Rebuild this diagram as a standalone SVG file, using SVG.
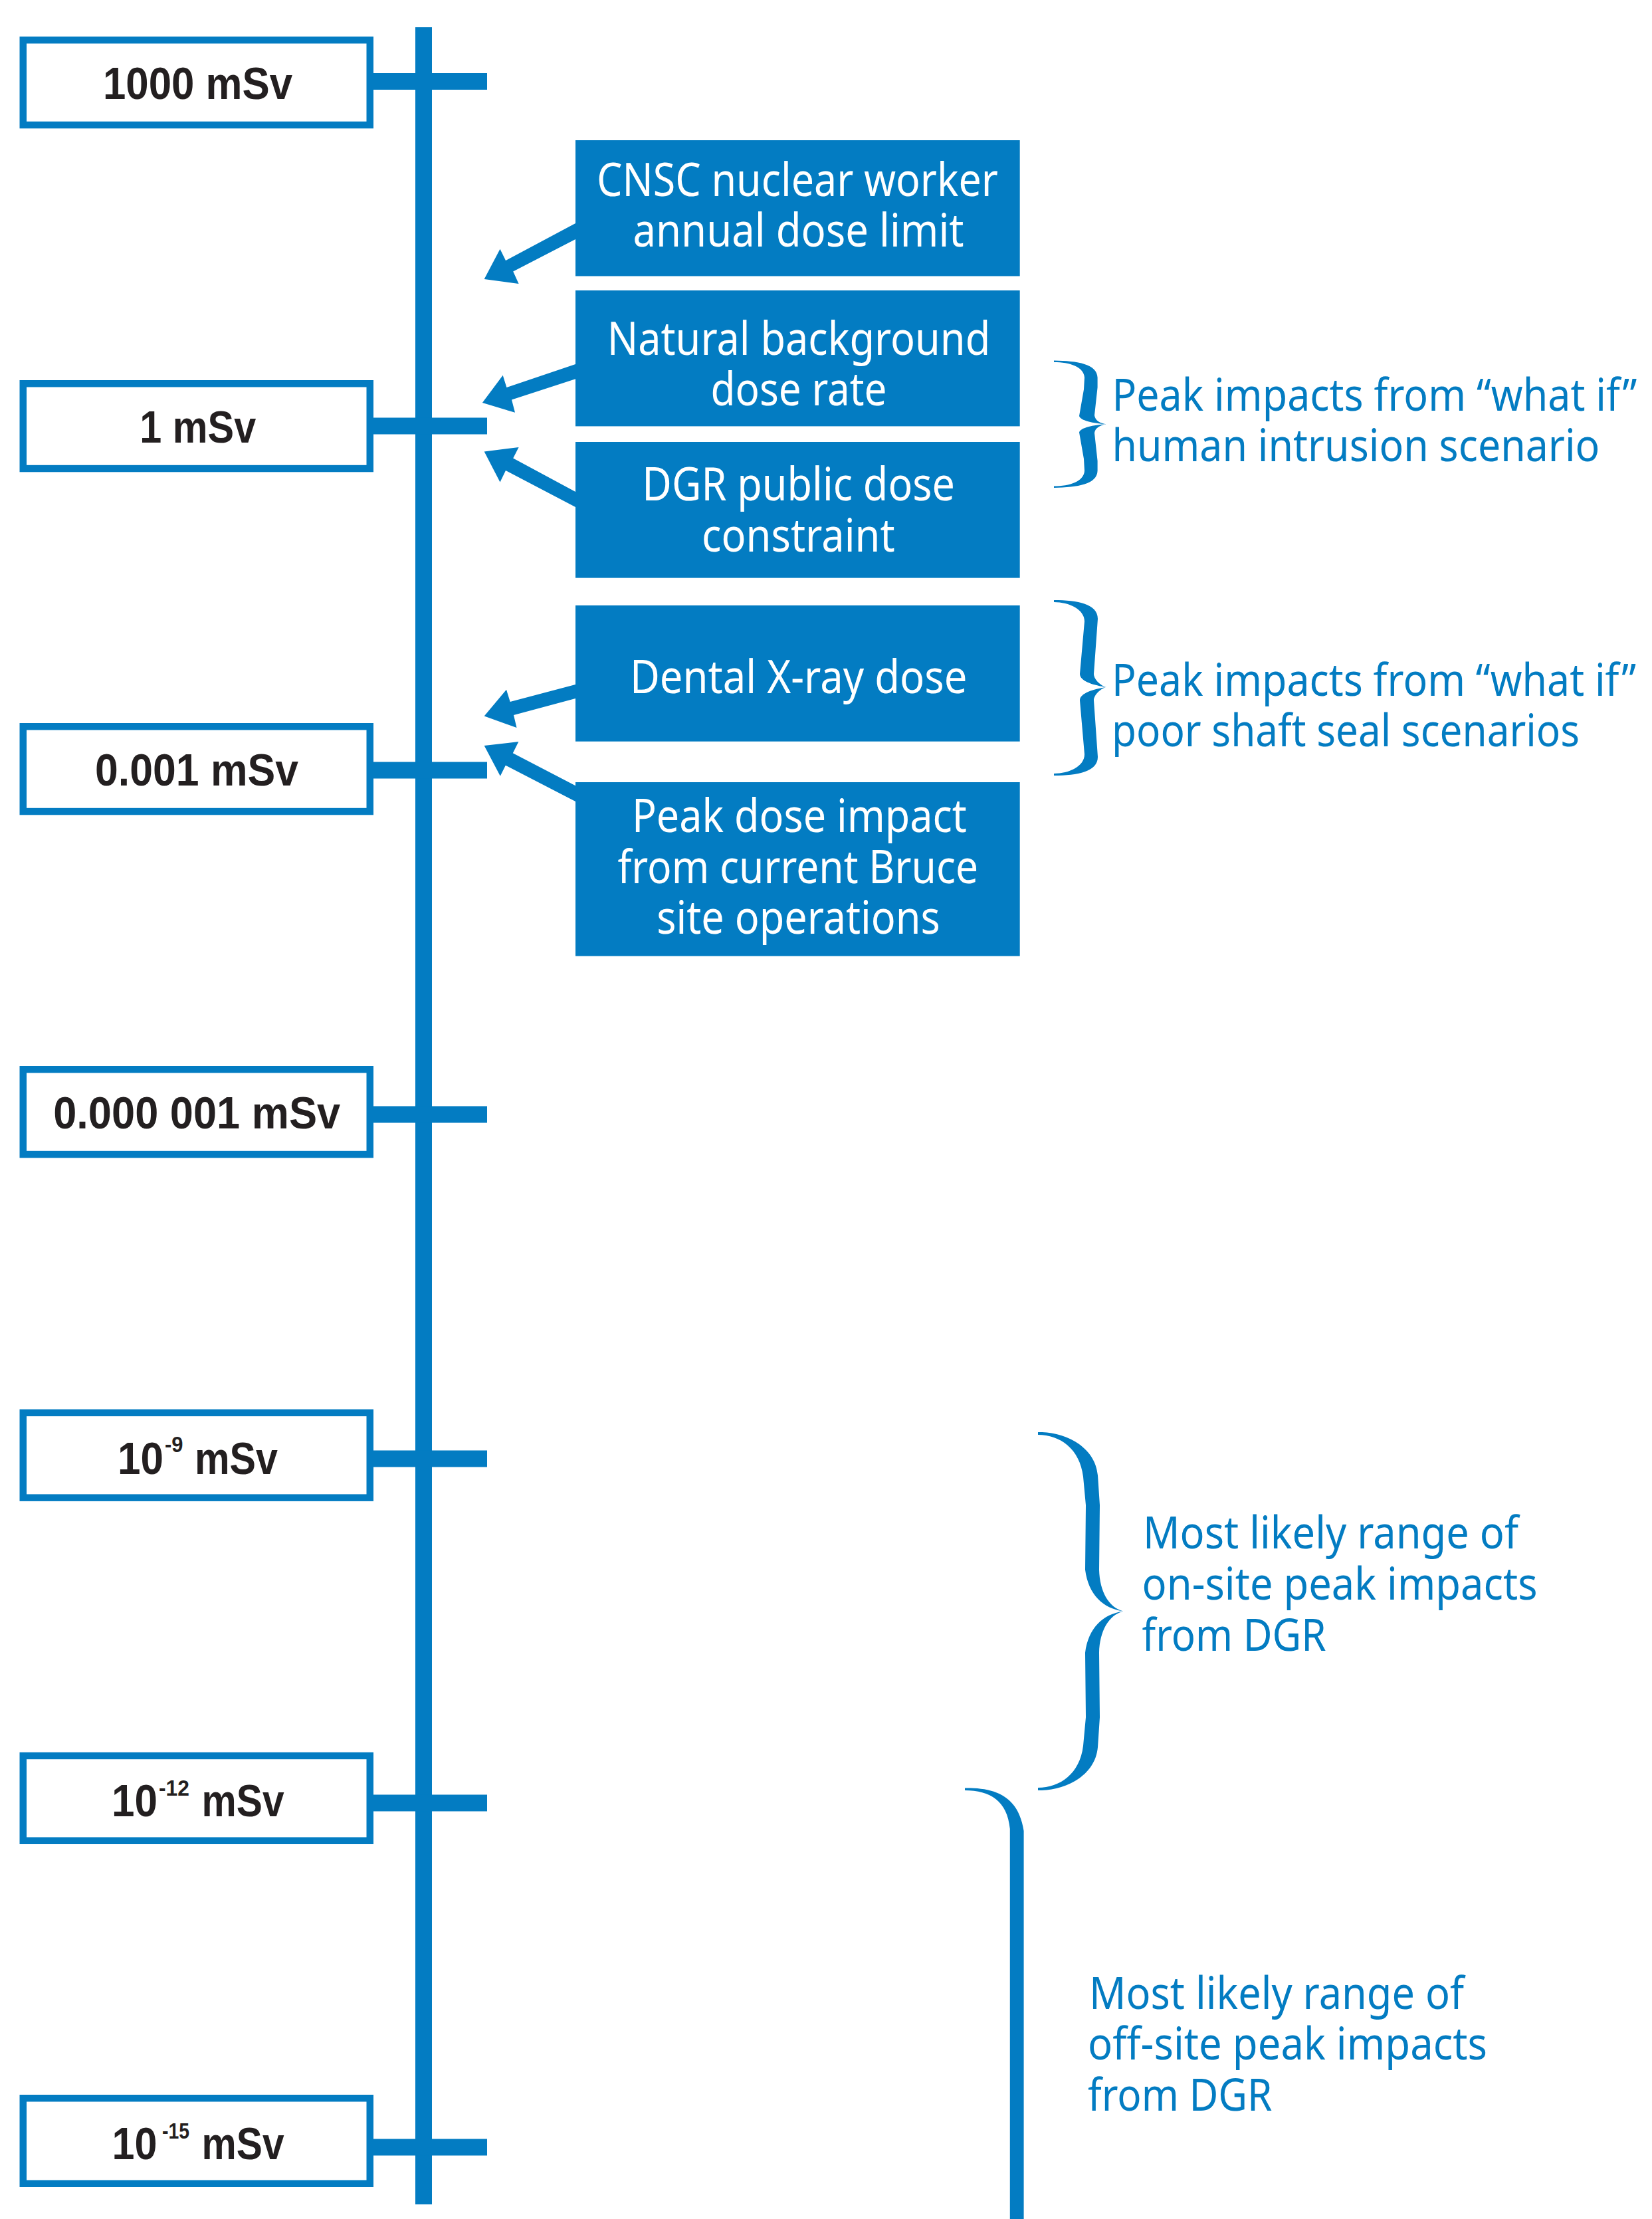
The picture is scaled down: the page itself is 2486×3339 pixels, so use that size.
<svg xmlns="http://www.w3.org/2000/svg" width="2486" height="3339" viewBox="0 0 2486 3339">
  <style>
    .blue { fill: #037cc2; }
    .lbl-box { fill: #ffffff; stroke: #037cc2; stroke-width: 10.5; }
    .lbl { font-family: "Liberation Sans", Arial, sans-serif; font-weight: bold; font-size: 69px; fill: #231f20; }
    .lbl-mid { text-anchor: middle; }
    .sup { font-size: 34px; }
    .card { fill: #037cc2; }
    .card-text { font-family: "Noto Sans", "Liberation Sans", sans-serif; font-size: 70px; fill: #ffffff; text-anchor: middle; }
    .note { font-family: "Noto Sans", "Liberation Sans", sans-serif; font-size: 67px; fill: #037cc2; }
  </style>

  <!-- vertical dose scale with tick marks -->
  <g id="scale-axis" class="blue">
    <rect x="625" y="41" width="25" height="3276"/>
    <rect x="562" y="110" width="171" height="25"/>
    <rect x="562" y="628.5" width="171" height="25"/>
    <rect x="562" y="1146.5" width="171" height="25"/>
    <rect x="562" y="1664.5" width="171" height="25"/>
    <rect x="562" y="2182.5" width="171" height="25"/>
    <rect x="562" y="2700.5" width="171" height="25"/>
    <rect x="562" y="3218.5" width="171" height="25"/>
  </g>

  <!-- dose level labels -->
  <g id="level-1000">
    <rect class="lbl-box" x="34.75" y="60.25" width="522" height="127.8"/>
    <text class="lbl lbl-mid" x="297.5" y="149" textLength="285" lengthAdjust="spacingAndGlyphs">1000 mSv</text>
  </g>
  <g id="level-1">
    <rect class="lbl-box" x="34.75" y="577.25" width="522" height="127.8"/>
    <text class="lbl lbl-mid" x="297.7" y="665.7" textLength="175" lengthAdjust="spacingAndGlyphs">1 mSv</text>
  </g>
  <g id="level-0.001">
    <rect class="lbl-box" x="34.75" y="1093.25" width="522" height="127.8"/>
    <text class="lbl lbl-mid" x="296" y="1181.7" textLength="306" lengthAdjust="spacingAndGlyphs">0.001 mSv</text>
  </g>
  <g id="level-0.000001">
    <rect class="lbl-box" x="34.75" y="1609.25" width="522" height="127.8"/>
    <text class="lbl lbl-mid" x="296.2" y="1697.7" textLength="432" lengthAdjust="spacingAndGlyphs">0.000 001 mSv</text>
  </g>
  <g id="level-1e-9">
    <rect class="lbl-box" x="34.75" y="2125.85" width="522" height="127.8"/>
    <text class="lbl" x="177" y="2217.5" textLength="69" lengthAdjust="spacingAndGlyphs">10</text>
    <text class="lbl sup" x="248" y="2185" textLength="27.5" lengthAdjust="spacingAndGlyphs">-9</text>
    <text class="lbl" x="293" y="2217.5" textLength="125" lengthAdjust="spacingAndGlyphs">mSv</text>
  </g>
  <g id="level-1e-12">
    <rect class="lbl-box" x="34.75" y="2641.95" width="522" height="127.8"/>
    <text class="lbl" x="168" y="2733" textLength="69" lengthAdjust="spacingAndGlyphs">10</text>
    <text class="lbl sup" x="239" y="2701.5" textLength="46" lengthAdjust="spacingAndGlyphs">-12</text>
    <text class="lbl" x="303.6" y="2733" textLength="124" lengthAdjust="spacingAndGlyphs">mSv</text>
  </g>
  <g id="level-1e-15">
    <rect class="lbl-box" x="34.75" y="3157.25" width="522" height="128.5"/>
    <text class="lbl" x="168.4" y="3249.3" textLength="68" lengthAdjust="spacingAndGlyphs">10</text>
    <text class="lbl sup" x="244" y="3218" textLength="41" lengthAdjust="spacingAndGlyphs">-15</text>
    <text class="lbl" x="303.6" y="3249.3" textLength="124" lengthAdjust="spacingAndGlyphs">mSv</text>
  </g>

  <!-- reference dose cards -->
  <g id="cnsc-worker-limit">
    <rect class="card" x="866" y="211" width="668.7" height="204.5"/>
    <text class="card-text" x="1200" y="294.8" textLength="604" lengthAdjust="spacingAndGlyphs">CNSC nuclear worker</text>
    <text class="card-text" x="1201.5" y="370.5" textLength="498" lengthAdjust="spacingAndGlyphs">annual dose limit</text>
  </g>
  <g id="natural-background">
    <rect class="card" x="866" y="437" width="668.7" height="204.4"/>
    <text class="card-text" x="1202" y="533.5" textLength="576.5" lengthAdjust="spacingAndGlyphs">Natural background</text>
    <text class="card-text" x="1202" y="610" textLength="265" lengthAdjust="spacingAndGlyphs">dose rate</text>
  </g>
  <g id="dgr-public-constraint">
    <rect class="card" x="866" y="665" width="668.7" height="204.6"/>
    <text class="card-text" x="1201.7" y="753" textLength="470.7" lengthAdjust="spacingAndGlyphs">DGR public dose</text>
    <text class="card-text" x="1201.3" y="829.7" textLength="290.7" lengthAdjust="spacingAndGlyphs">constraint</text>
  </g>
  <g id="dental-xray">
    <rect class="card" x="866" y="911" width="668.7" height="204.7"/>
    <text class="card-text" x="1201.7" y="1042.6" textLength="507.5" lengthAdjust="spacingAndGlyphs">Dental X-ray dose</text>
  </g>
  <g id="bruce-site-operations">
    <rect class="card" x="866" y="1177" width="668.7" height="261.7"/>
    <text class="card-text" x="1202.9" y="1252" textLength="504" lengthAdjust="spacingAndGlyphs">Peak dose impact</text>
    <text class="card-text" x="1200.8" y="1328.5" textLength="542.5" lengthAdjust="spacingAndGlyphs">from current Bruce</text>
    <text class="card-text" x="1201.5" y="1405" textLength="426.5" lengthAdjust="spacingAndGlyphs">site operations</text>
  </g>

  <!-- arrows from each card to the scale -->
  <g id="connectors" class="blue">
    <polygon points="866,336 761,392 752.5,374.7 728.7,420 780.6,427 772.2,408.6 866,360"/>
    <polygon points="866,548 762.4,583 756.7,564.8 725.9,606 775,620.8 770,601.5 866,570.3"/>
    <polygon points="866,740 772.2,689.6 780.6,673 728.7,679.5 752.5,725.5 761,708 866,763"/>
    <polygon points="866,1030 767.7,1056 762,1037.7 728.7,1077.5 777.5,1095 773,1076 866,1051"/>
    <polygon points="866,1182.3 771.8,1133.3 780.4,1116 728.7,1122 752.8,1167.8 760.8,1151.7 866,1206"/>
  </g>

  <!-- scenario ranges: braces with notes -->
  <g id="human-intrusion">
    <path class="blue" d="M1586,542.5 C1622,543 1651,548 1651.6,568 L1651.6,583 L1647,625 C1648,633 1656,637 1665,638.3 C1645,637 1626,633 1624,626 L1631,586 L1632,568 C1631,552 1610,545 1586,545 Z M1586,734 C1622,733.6 1651,728.6 1651.6,708.6 L1651.6,693.6 L1647,651.6 C1648,643.6 1656,639.6 1665,638.3 C1645,639.6 1626,643.6 1624,650.6 L1631,690.6 L1632,708.6 C1631,724.6 1610,731.6 1586,731.6 Z"/>
    <text class="note" transform="translate(1673.4 617.6) scale(0.9 1)" x="0" y="0" textLength="877.8" lengthAdjust="spacingAndGlyphs">Peak impacts from “what if”</text>
    <text class="note" x="1673.4" y="694.3" textLength="734" lengthAdjust="spacingAndGlyphs">human intrusion scenario</text>
  </g>
  <g id="poor-shaft-seal">
    <path class="blue" d="M1586,903 C1622,903 1652,909 1652,931 L1646,1014 C1646,1023 1658,1033 1665,1034 C1645,1031 1625,1025 1625,1014 L1632,935 C1632,917 1609,906 1586,906 Z M1586,1167 C1622,1167 1652,1161 1652,1139 L1646,1054 C1646,1045 1658,1035 1665,1034 C1645,1037 1625,1043 1625,1054 L1632,1135 C1632,1153 1609,1164 1586,1164 Z"/>
    <text class="note" transform="translate(1673 1046.9) scale(0.9 1)" x="0" y="0" textLength="876.7" lengthAdjust="spacingAndGlyphs">Peak impacts from “what if”</text>
    <text class="note" x="1673" y="1122.8" textLength="704" lengthAdjust="spacingAndGlyphs">poor shaft seal scenarios</text>
  </g>
  <g id="on-site-range">
    <path class="blue" d="M1562,2155 C1600,2154 1648,2175 1652,2220 L1655,2265 L1654,2362 C1655,2395 1668,2418 1690,2424.5 C1660,2420 1638,2400 1633,2362 L1634,2265 L1630,2222 C1625,2180 1595,2159 1562,2159 Z M1562,2694 C1600,2695 1648,2674 1652,2629 L1655,2584 L1654,2487 C1655,2454 1668,2431 1690,2424.5 C1660,2429 1638,2449 1633,2487 L1634,2584 L1630,2627 C1625,2669 1595,2690 1562,2690 Z"/>
    <text class="note" x="1720" y="2330.4" textLength="565" lengthAdjust="spacingAndGlyphs">Most likely range of</text>
    <text class="note" x="1718.6" y="2407" textLength="595" lengthAdjust="spacingAndGlyphs">on-site peak impacts</text>
    <text class="note" x="1718.6" y="2483.8" textLength="277" lengthAdjust="spacingAndGlyphs">from DGR</text>
  </g>
  <g id="off-site-range">
    <path class="blue" d="M1452,2690.5 C1495,2690 1532,2700 1540.6,2755 L1540.6,3339 L1519.8,3339 L1519.8,2752 C1516,2710 1490,2694 1452,2694 Z"/>
    <text class="note" x="1639" y="3022.6" textLength="564" lengthAdjust="spacingAndGlyphs">Most likely range of</text>
    <text class="note" x="1637" y="3099" textLength="601" lengthAdjust="spacingAndGlyphs">off-site peak impacts</text>
    <text class="note" x="1637" y="3175.5" textLength="277.5" lengthAdjust="spacingAndGlyphs">from DGR</text>
  </g>
</svg>
